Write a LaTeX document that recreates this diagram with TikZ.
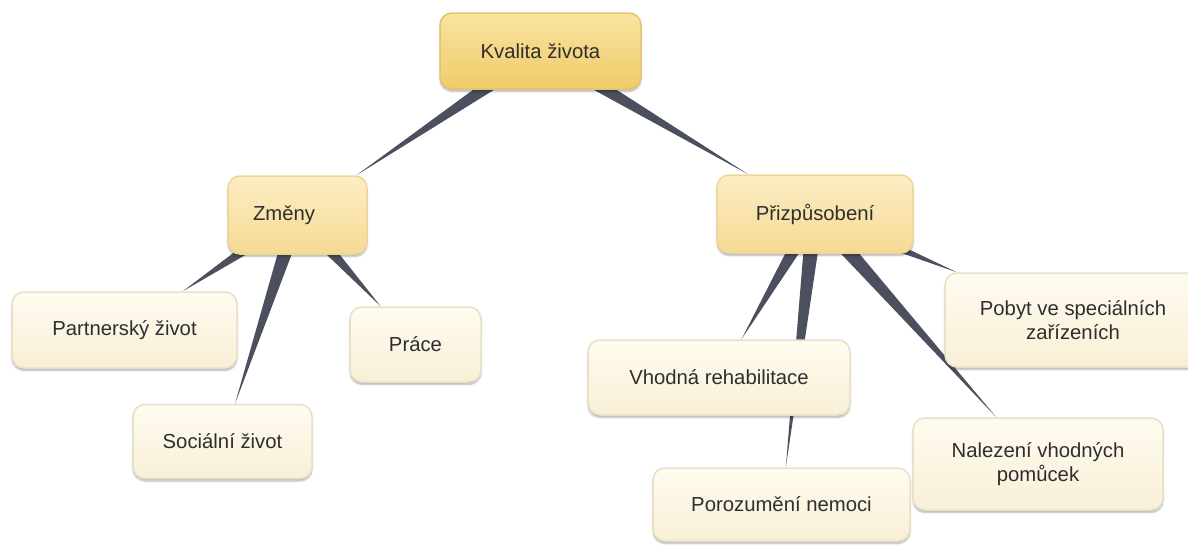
\documentclass[tikz,border=0pt]{standalone}
\usepackage{fontspec}
\setsansfont{Liberation Sans}
\usepackage{tikz}
\usetikzlibrary{calc,backgrounds,shadows.blur}
\definecolor{mapInk}{HTML}{2E2E2E}
\definecolor{branchGrey}{HTML}{4B4F5E}
\definecolor{rootTop}{HTML}{F9E4A2}
\definecolor{rootBottom}{HTML}{F0CB68}
\definecolor{rootBorder}{HTML}{E4C470}
\definecolor{midTop}{HTML}{FCEDC4}
\definecolor{midBottom}{HTML}{F6DA94}
\definecolor{midBorder}{HTML}{EDD497}
\definecolor{leafTop}{HTML}{FFFBF0}
\definecolor{leafBottom}{HTML}{F8EFD6}
\definecolor{leafBorder}{HTML}{E8DFC6}
\tikzset{
  every picture/.append style={font=\sffamily\fontsize{20.3}{23.5}\selectfont},
  mapbox/.style={rectangle,rounded corners=12pt,line width=1.5pt,inner sep=0pt,align=center,text=mapInk,
    blur shadow={shadow xshift=0pt,shadow yshift=-2.5pt,shadow blur steps=6,shadow opacity=30}},
  rootbox/.style={mapbox,draw=rootBorder,top color=rootTop,bottom color=rootBottom},
  midbox/.style={mapbox,draw=midBorder,top color=midTop,bottom color=midBottom},
  leafbox/.style={mapbox,draw=leafBorder,top color=leafTop,bottom color=leafBottom},
  branchfill/.style={fill=branchGrey},
}
% tapered branch: wide at the parent, a point on the child's border
\newcommand{\mapbranch}[2]{%
  \fill[branchfill] let \p1=($(#2.center)-(#1.center)$), \p2=($(#2.north east)-(#2.center)$),
      \n1={atan2(\y1,\x1)}, \n3={scalar(min(abs(\x2)/abs(\x1),abs(\y2)/abs(\y1)))} in
    ($(#1.center)+(\n1+90:8.5pt)$) -- ($(#2.center)!\n3!(#1.center)$) -- ($(#1.center)+(\n1-90:8.5pt)$) -- cycle;}

\begin{document}
\begin{tikzpicture}[x=1pt,y=-1pt]
  \useasboundingbox (0,0) rectangle (1188,544);

  \node[rootbox, minimum width=201pt, minimum height=76pt] (kvalita) at (540.5,51) {Kvalita života};

  \node[midbox, text width=89pt, inner xsep=25pt, minimum height=78pt, align=left] (zmeny) at (297.5,215) {Změny};
  \node[midbox, minimum width=196pt, minimum height=78pt] (prizp) at (815,214) {Přizpůsobení};

  \node[leafbox, minimum width=225pt, minimum height=76pt] (partner) at (124.5,330) {Partnerský život};
  \node[leafbox, minimum width=179pt, minimum height=74pt] (socialni) at (222.5,441.5) {Sociální život};
  \node[leafbox, minimum width=131pt, minimum height=75pt] (prace) at (415.5,344.5) {Práce};

  \node[leafbox, minimum width=262pt, minimum height=75pt] (rehab) at (719,377.5) {Vhodná rehabilitace};
  \node[leafbox, minimum width=257pt, minimum height=73pt] (porozum) at (781.5,504.5) {Porozumění nemoci};
  \node[leafbox, minimum width=256pt, minimum height=94pt] (pobyt) at (1073,320) {Pobyt ve speciálních\\zařízeních};
  \node[leafbox, minimum width=250pt, minimum height=92pt] (pomucky) at (1038,464) {Nalezení vhodných\\pomůcek};

  \begin{scope}[on background layer]
    \mapbranch{kvalita}{zmeny}
    \mapbranch{kvalita}{prizp}
    \mapbranch{zmeny}{partner}
    \mapbranch{zmeny}{socialni}
    \mapbranch{zmeny}{prace}
    \mapbranch{prizp}{rehab}
    \mapbranch{prizp}{porozum}
    \mapbranch{prizp}{pobyt}
    \mapbranch{prizp}{pomucky}
  \end{scope}
\end{tikzpicture}
\end{document}
